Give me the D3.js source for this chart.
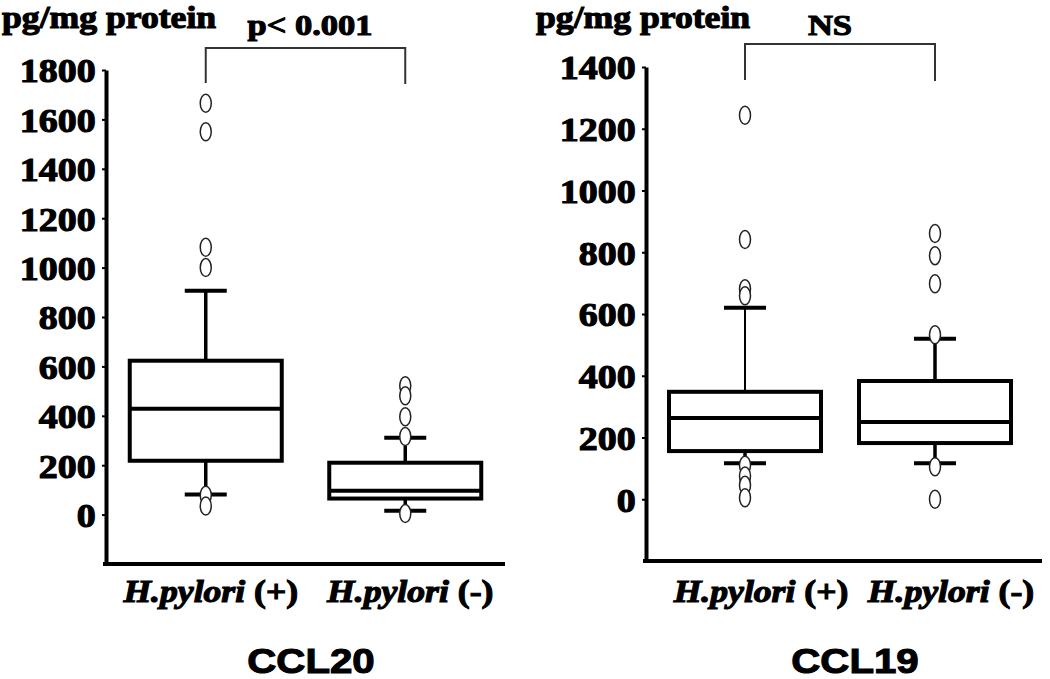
<!DOCTYPE html>
<html>
<head>
<meta charset="utf-8">
<script src="https://cdn.jsdelivr.net/npm/d3@7"></script>
<style>
  body { margin: 0; background: #fff; }
  text { fill: #000; stroke: #000; stroke-width: 1.1px; }
</style>
</head>
<body>
<svg id="chart" width="1050" height="679"></svg>
<script>
// groups on the x axis
const groups = ["(+)", "(-)"];

// CCL20 box summaries (pg/mg protein)
const ccl20Q1 = [218, 65];
const ccl20Median = [429, 97];
const ccl20Q3 = [623, 210];
const ccl20WhiskerLow = [81, 16];
const ccl20WhiskerHigh = [906, 311];
const ccl20Outliers = [[1665, 1550, 1082, 1000, 78, 35], [522, 481, 396, 316, 4]];
const ccl20Ticks = [0, 200, 400, 600, 800, 1000, 1200, 1400, 1600, 1800];

// CCL19 box summaries (pg/mg protein)
const ccl19Q1 = [156, 182];
const ccl19Median = [263, 250];
const ccl19Q3 = [348, 383];
const ccl19WhiskerLow = [117, 117];
const ccl19WhiskerHigh = [620, 520];
const ccl19Outliers = [[1244, 841, 682, 659, 110, 75, 45, 5], [861, 789, 698, 533, 105, 0]];
const ccl19Ticks = [0, 200, 400, 600, 800, 1000, 1200, 1400];

const svg = d3.select("#chart");
const serif = "'Liberation Serif', 'Times New Roman', serif";
const sans = "'Liberation Sans', Arial, sans-serif";
const sx = 1.15; // the original lettering is a bit wide

// put a horizontally stretched text at x,y
const wideText = (g, x, y, str, size, family, anchor) => g.append("text")
  .attr("transform", "translate(" + x + "," + y + ") scale(" + sx + ",1)")
  .attr("text-anchor", anchor || "middle")
  .style("font-family", family)
  .style("font-weight", "bold")
  .style("font-size", size + "px")
  .text(str);

const drawPanel = (p) => {
  const g = svg.append("g");

  const y = d3.scaleLinear().domain(p.yDomain).range(p.yRange);
  const x = d3.scaleBand().domain(groups).range(p.xRange);

  // y axis
  const yAxis = g.append("g")
    .attr("transform", "translate(" + p.axisX + ",0)")
    .call(d3.axisLeft(y).tickValues(p.ticks).tickSize(4).tickSizeOuter(0).tickPadding(5).tickFormat(d3.format("d")));
  yAxis.select(".domain").attr("stroke-width", 4);
  yAxis.selectAll(".tick line").attr("stroke-width", 2);
  yAxis.selectAll(".tick text")
    .attr("transform", "scale(" + sx + ",1)")
    .attr("dy", "0.36em")
    .attr("fill", "#000")
    .style("font-family", serif)
    .style("font-weight", "bold")
    .style("font-size", "33px");

  // x axis line
  g.append("line")
    .attr("x1", p.axisX - 3).attr("x2", p.axisEnd)
    .attr("y1", y(p.yDomain[0])).attr("y2", y(p.yDomain[0]))
    .attr("stroke", "#000").attr("stroke-width", 4);

  const boxW = 152, capW = 42;
  groups.forEach((grp, i) => {
    const cx = x(grp) + x.bandwidth() / 2;
    // whiskers
    g.append("line").attr("x1", cx).attr("x2", cx)
      .attr("y1", y(p.q3[i])).attr("y2", y(p.high[i]))
      .attr("stroke", "#000").attr("stroke-width", p.whiskerW[i]);
    g.append("line").attr("x1", cx).attr("x2", cx)
      .attr("y1", y(p.q1[i])).attr("y2", y(p.low[i]))
      .attr("stroke", "#000").attr("stroke-width", 3.5);
    [p.high[i], p.low[i]].forEach((v) => {
      g.append("line").attr("x1", cx - capW / 2).attr("x2", cx + capW / 2)
        .attr("y1", y(v)).attr("y2", y(v))
        .attr("stroke", "#000").attr("stroke-width", 4);
    });
    // box
    g.append("rect")
      .attr("x", cx - boxW / 2).attr("width", boxW)
      .attr("y", y(p.q3[i])).attr("height", y(p.q1[i]) - y(p.q3[i]))
      .attr("fill", "#fff").attr("stroke", "#000").attr("stroke-width", 4);
    g.append("line").attr("x1", cx - boxW / 2).attr("x2", cx + boxW / 2)
      .attr("y1", y(p.median[i])).attr("y2", y(p.median[i]))
      .attr("stroke", "#000").attr("stroke-width", 4);
    // outliers
    g.selectAll(null).data(p.outliers[i]).enter()
      .append("ellipse")
      .attr("cx", cx).attr("cy", (d) => y(d))
      .attr("rx", 5.5).attr("ry", 9)
      .attr("fill", "#fff").attr("stroke", "#222").attr("stroke-width", 1.5);

    // category label: italic species name + sign
    const lab = g.append("text")
      .attr("transform", "translate(" + (cx + p.labelShift) + "," + p.labelY + ") scale(" + sx + ",1)")
      .attr("text-anchor", "middle")
      .style("font-family", serif)
      .style("font-weight", "bold")
      .style("font-size", "31px");
    lab.append("tspan").style("font-style", "italic").text("H.pylori");
    lab.append("tspan").text(" " + grp);
  });

  // significance bracket
  const c0 = x(groups[0]) + x.bandwidth() / 2, c1 = x(groups[1]) + x.bandwidth() / 2;
  g.append("path")
    .attr("d", "M" + c0 + "," + p.bracketBottom + "V" + p.bracketTop + "H" + c1 + "V" + (p.bracketBottom + 1))
    .attr("fill", "none").attr("stroke", "#333").attr("stroke-width", 2);

  wideText(g, p.statX, 35, p.stat, p.statSize, serif);
  wideText(g, p.unitX, 28, "pg/mg protein", 31, serif, "start");
  wideText(g, p.titleX, 673, p.title, 35, sans);
};

drawPanel({
  title: "CCL20", stat: "p< 0.001", statSize: 30, statX: 310, unitX: 2, titleX: 311,
  yDomain: [-200, 1800], yRange: [564, 70], ticks: ccl20Ticks,
  xRange: [106, 505], axisX: 106, axisEnd: 505,
  q1: ccl20Q1, median: ccl20Median, q3: ccl20Q3, low: ccl20WhiskerLow, high: ccl20WhiskerHigh,
  outliers: ccl20Outliers, whiskerW: [3.5, 3.5],
  bracketTop: 48, bracketBottom: 83, labelY: 602, labelShift: 5
});

drawPanel({
  title: "CCL19", stat: "NS", statSize: 30, statX: 830, unitX: 536, titleX: 855,
  yDomain: [-200, 1400], yRange: [561, 67], ticks: ccl19Ticks,
  xRange: [650, 1030], axisX: 646, axisEnd: 1042,
  q1: ccl19Q1, median: ccl19Median, q3: ccl19Q3, low: ccl19WhiskerLow, high: ccl19WhiskerHigh,
  outliers: ccl19Outliers, whiskerW: [2, 3.5],
  bracketTop: 44, bracketBottom: 80, labelY: 602, labelShift: 16
});
</script>
</body>
</html>
